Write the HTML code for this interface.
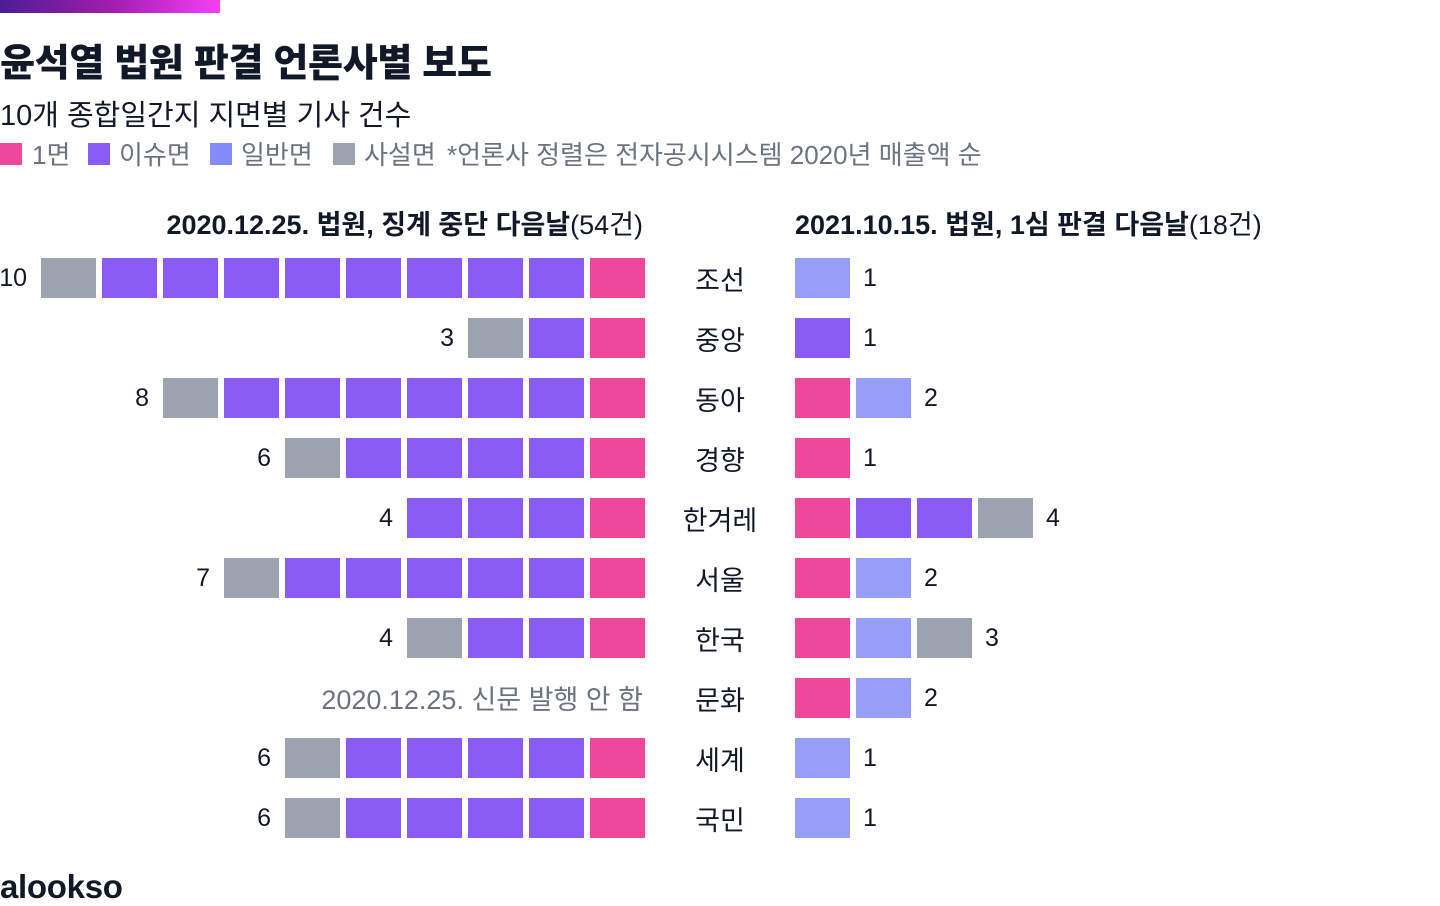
<!DOCTYPE html>
<html><head><meta charset="utf-8"><style>
body{margin:0;width:1440px;height:900px;background:#fff;font-family:"Liberation Sans","Noto Sans CJK KR",sans-serif;position:relative;overflow:hidden;color:#111827}
.abs{position:absolute;white-space:nowrap}
.sq{position:absolute;top:143px;width:22px;height:22px}
.lt{position:absolute;top:135px;font-size:26px;color:#6b7280;white-space:nowrap}
</style></head><body>
<div class="abs" style="left:0;top:0;width:220px;height:13px;background:linear-gradient(90deg,#4c1d95,#a21caf,#f43ff5)"></div>
<div class="abs" style="left:0;top:32px;font-size:38px;font-weight:900;letter-spacing:-0.3px">윤석열 법원 판결 언론사별 보도</div>
<div class="abs" style="left:0;top:92px;font-size:29px">10개 종합일간지 지면별 기사 건수</div>
<div>
<div class="sq" style="left:0;background:#ef4799"></div><div class="lt" style="left:32px">1면</div>
<div class="sq" style="left:88px;background:#8b5cf5"></div><div class="lt" style="left:119px">이슈면</div>
<div class="sq" style="left:210px;background:#818cf8"></div><div class="lt" style="left:241px">일반면</div>
<div class="sq" style="left:333px;background:#9ca3af"></div><div class="lt" style="left:364px">사설면</div>
<div class="lt" style="left:447px">*언론사 정렬은 전자공시시스템 2020년 매출액 순</div>
</div>
<div class="abs" style="right:797px;top:203px;font-size:27px;font-weight:700">2020.12.25. 법원, 징계 중단 다음날<span style="font-weight:400">(54건)</span></div>
<div class="abs" style="left:795px;top:203px;font-size:27px;font-weight:700">2021.10.15. 법원, 1심 판결 다음날<span style="font-weight:400">(18건)</span></div>
<div id="chart"></div>
<div class="abs" style="left:0;top:868px;font-size:33px;font-weight:900;letter-spacing:-0.3px">alookso</div>
<script>
const papers=["조선","중앙","동아","경향","한겨레","서울","한국","문화","세계","국민"];
const left1=[1,1,1,1,1,1,1,0,1,1];
const leftIssue=[8,1,6,4,3,5,2,0,4,4];
const leftGeneral=[0,0,0,0,0,0,0,0,0,0];
const leftEditorial=[1,1,1,1,0,1,1,0,1,1];
const leftNote=["","","","","","","","2020.12.25. 신문 발행 안 함","",""];
const right1=[0,0,1,1,1,1,1,1,0,0];
const rightIssue=[0,1,0,0,2,0,0,0,0,0];
const rightGeneral=[1,0,1,0,0,1,1,1,1,1];
const rightEditorial=[0,0,0,0,1,0,1,0,0,0];
const colors={p:"#ef4799",i:"#8b5cf5",g:"#979ef8",e:"#9ca3af"};
const root=document.getElementById('chart');
const W=55,G=6,H=40,Y0=258,P=60,LR=645,RL=795;
const rowY=i=>Y0+i*P;
function box(x,y,c,name){const d=document.createElement('div');d.className='abs';


d.style.cssText=`left:${x}px;top:${y}px;width:${W}px;height:${H}px;background:${c}`;root.appendChild(d);}
function txt(s,css,name){const d=document.createElement('div');d.className='abs';


d.textContent=s;d.style.cssText=css;root.appendChild(d);}
papers.forEach((p,i)=>{
 const y=rowY(i);
 txt(p,`left:670px;width:100px;text-align:center;top:${y+1}px;font-size:27px`,'paper-label');
 const L=[];for(let k=0;k<left1[i];k++)L.push(colors.p);for(let k=0;k<leftIssue[i];k++)L.push(colors.i);
 for(let k=0;k<leftGeneral[i];k++)L.push(colors.g);for(let k=0;k<leftEditorial[i];k++)L.push(colors.e);
 L.forEach((c,k)=>box(LR-W-k*(W+G),y,c,'left-box'));
 if(L.length)txt(String(L.length),`right:${1440-(LR-L.length*(W+G)+G-14)}px;top:${y+6}px;font-size:25px`,'left-count');
 if(leftNote[i])txt(leftNote[i],`right:797px;top:${y}px;font-size:27px;color:#6b7280`,'left-note');
 const R=[];for(let k=0;k<right1[i];k++)R.push(colors.p);for(let k=0;k<rightIssue[i];k++)R.push(colors.i);
 for(let k=0;k<rightGeneral[i];k++)R.push(colors.g);for(let k=0;k<rightEditorial[i];k++)R.push(colors.e);
 R.forEach((c,k)=>box(RL+k*(W+G),y,c,'right-box'));
 txt(String(R.length),`left:${RL+R.length*(W+G)-G+13}px;top:${y+6}px;font-size:25px`,'right-count');
});
</script>
</body></html>
